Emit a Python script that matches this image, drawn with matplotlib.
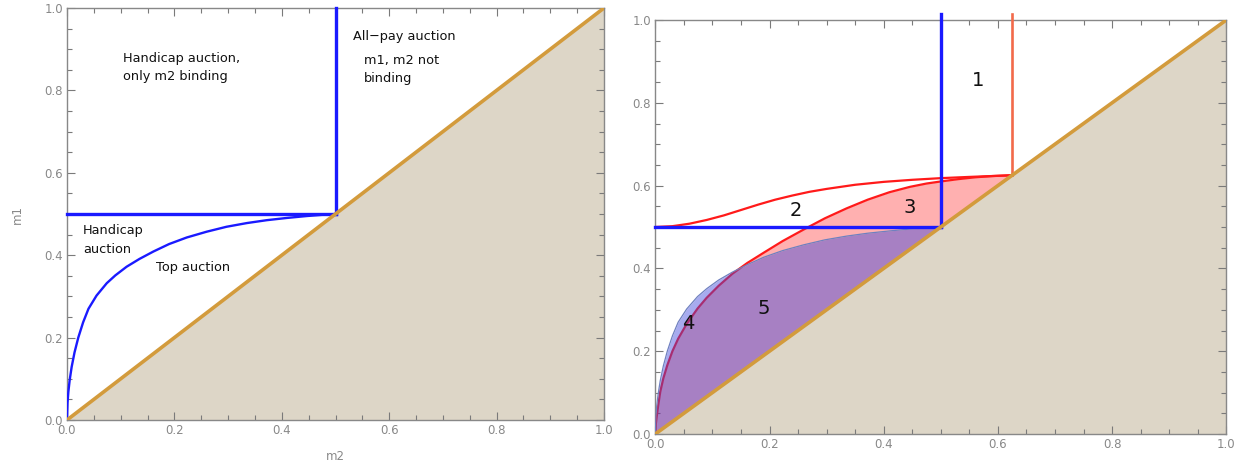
import numpy as np
import matplotlib
matplotlib.use("Agg")
import matplotlib.pyplot as plt
from matplotlib.ticker import MultipleLocator

# ---------------- data ----------------
diag_m2 = [0.0, 1.0]
diag_m1 = [0.0, 1.0]

threshold = 0.5            # blue corner point (m2 = m1 = 0.5)
threshold_red = 0.625      # orange/red corner point

# shared m2 grid for the curves up to 0.5
m2_grid = [0.0, 0.001, 0.0025, 0.005, 0.0087, 0.014, 0.021, 0.03, 0.04, 0.055,
           0.074, 0.09, 0.111, 0.135, 0.161, 0.19, 0.223, 0.26, 0.297, 0.335,
           0.372, 0.41, 0.446, 0.475, 0.5]
# "Top auction" boundary (blue curve)
top_auction_m1 = [0.0, 0.042, 0.068, 0.097, 0.129, 0.164, 0.2, 0.237, 0.27, 0.302,
                  0.332, 0.351, 0.372, 0.391, 0.409, 0.427, 0.443, 0.457, 0.469, 0.478,
                  0.485, 0.4905, 0.495, 0.498, 0.5]
# lower red curve on the same grid ...
red_lower_m1 = [0.0, 0.025, 0.042, 0.068, 0.102, 0.134, 0.166, 0.2, 0.23, 0.266,
                0.303, 0.329, 0.358, 0.387, 0.413, 0.438, 0.466, 0.494, 0.521, 0.545,
                0.566, 0.584, 0.597, 0.605, 0.610]
# ... and its continuation up to the red corner
red_lower_ext_m2 = [0.53, 0.56, 0.59, 0.625]
red_lower_ext_m1 = [0.6155, 0.62, 0.623, 0.625]

# upper red (sigmoid) curve
red_upper_m2 = [0.0, 0.03, 0.06, 0.09, 0.12, 0.15, 0.18, 0.21, 0.24, 0.27, 0.30,
                0.35, 0.40, 0.45, 0.50, 0.55, 0.625]
red_upper_m1 = [0.5, 0.502, 0.508, 0.517, 0.528, 0.541, 0.554, 0.566, 0.576, 0.585,
                0.592, 0.602, 0.609, 0.614, 0.618, 0.621, 0.625]

ticks = [0.0, 0.2, 0.4, 0.6, 0.8, 1.0]
tick_labels = ["0.0", "0.2", "0.4", "0.6", "0.8", "1.0"]

left_texts = [
    ("Handicap auction,\nonly m2 binding", 0.105, 0.855),
    ("All\u2212pay auction", 0.533, 0.93),
    ("m1, m2 not\nbinding", 0.553, 0.851),
    ("Handicap\nauction", 0.03, 0.437),
    ("Top auction", 0.166, 0.369),
]
right_texts = [("1", 0.565, 0.855), ("2", 0.246, 0.541), ("3", 0.446, 0.548),
               ("4", 0.057, 0.268), ("5", 0.19, 0.304)]

# ---------------- styling ----------------
BLUE = "#1a1aff"
DIAG = "#d39b3c"
TAN = "#ddd6c7"
GRAY = "#888888"
TICKC = "#7a7a7a"

fig = plt.figure(figsize=(12.47, 4.66), dpi=100)
axL = fig.add_axes([67/1247, 46/466, 537/1247, 412/466])
axR = fig.add_axes([655.3/1247, 32/466, 571/1247, 414/466])

def style(ax):
    ax.set_xlim(0, 1)
    ax.set_ylim(0, 1)
    ax.set_xticks(ticks)
    ax.set_yticks(ticks)
    ax.set_xticklabels(tick_labels)
    ax.set_yticklabels(tick_labels)
    ax.xaxis.set_minor_locator(MultipleLocator(0.05))
    ax.yaxis.set_minor_locator(MultipleLocator(0.05))
    ax.tick_params(which="both", direction="in", top=True, right=True,
                   color=TICKC, labelcolor=GRAY, labelsize=8.5, width=0.8)
    ax.tick_params(which="major", length=6, pad=3)
    ax.tick_params(which="minor", length=3.5)
    for s in ax.spines.values():
        s.set_color(GRAY)
        s.set_linewidth(1.0)

for ax in (axL, axR):
    style(ax)
    ax.fill_between(diag_m2, diag_m1, 0, color=TAN, lw=0, zorder=1)
    ax.plot(diag_m2, diag_m1, color=DIAG, lw=2.6, zorder=6, solid_capstyle="butt")

# ---- left panel ----
axL.plot(m2_grid, top_auction_m1, color=BLUE, lw=1.7, zorder=4)
axL.plot([0, threshold], [threshold, threshold], color=BLUE, lw=2.4, zorder=5,
         clip_on=False)
axL.plot([threshold, threshold], [threshold, 1.0], color=BLUE, lw=2.4, zorder=5,
         clip_on=False)
for txt, x, y in left_texts:
    axL.text(x, y, txt, fontsize=9.3, color="#111111", ha="left", va="center",
             linespacing=1.55, zorder=7)
axL.set_xlabel("m2", color=GRAY, fontsize=8.5, labelpad=9)
axL.set_ylabel("m1", color=GRAY, fontsize=8.5, labelpad=15)

# ---- right panel ----
red_m2_full = list(m2_grid) + red_lower_ext_m2
red_m1_full = list(red_lower_m1) + red_lower_ext_m1
axR.fill_between(red_m2_full, red_m1_full, red_m2_full, color="#ff0000",
                 alpha=0.31, lw=0, zorder=2)
axR.plot(red_m2_full, red_m1_full, color="#ff1a1a", lw=1.6, zorder=3)
axR.fill_between(m2_grid, top_auction_m1, m2_grid, color="#3c46dc",
                 alpha=0.45, lw=0, zorder=3.5)
axR.plot(m2_grid, top_auction_m1, color="#6f80c0", lw=0.9, zorder=3.6)
axR.plot(red_upper_m2, red_upper_m1, color="#ff1a1a", lw=1.6, zorder=4)
axR.plot([0, threshold], [threshold, threshold], color=BLUE, lw=2.4, zorder=5,
         clip_on=False)
axR.plot([threshold, threshold], [threshold, 1.015], color=BLUE, lw=2.4, zorder=5,
         clip_on=False)
axR.plot([threshold_red, threshold_red], [threshold_red, 1.015], color="#f26a4a",
         lw=1.9, zorder=5, clip_on=False)
for txt, x, y in right_texts:
    axR.text(x, y, txt, fontsize=14, color="#111111", ha="center", va="center",
             zorder=7)

fig.savefig("out.png", dpi=100)
